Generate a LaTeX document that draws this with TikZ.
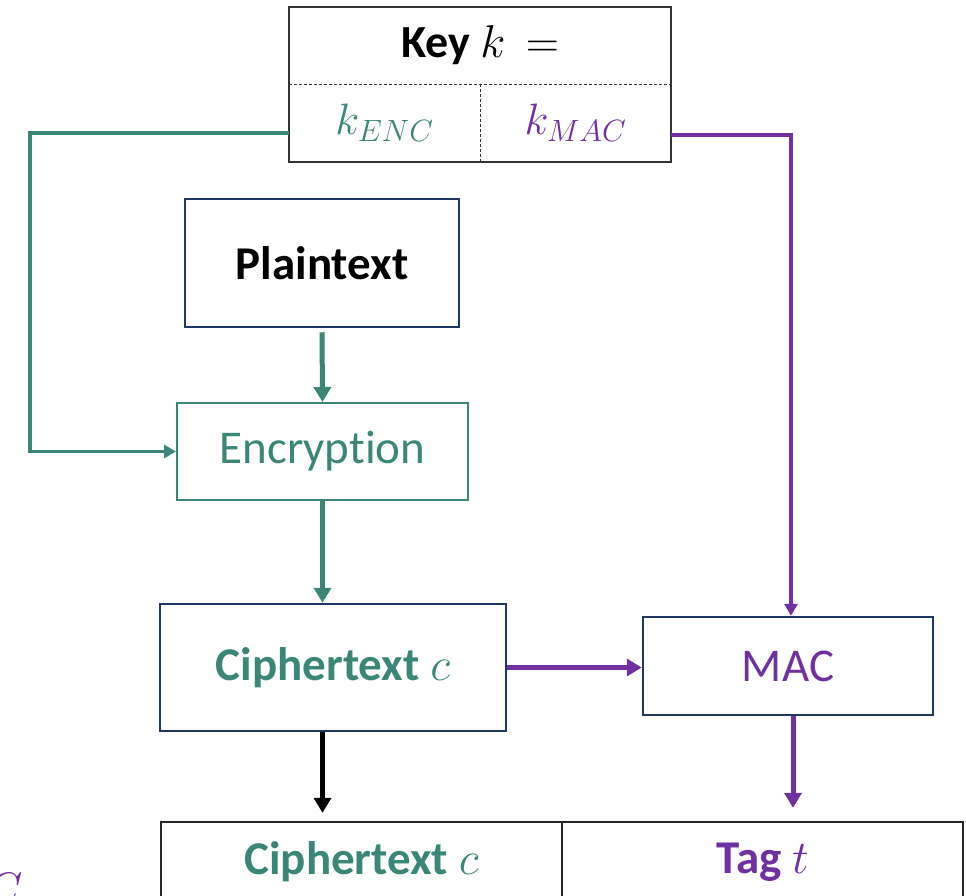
\RequirePackage{fix-cm}
\documentclass[tikz,border=0pt]{standalone}
\usepackage{fontspec}
\setmainfont{Carlito}[Ligatures=NoCommon]
\usetikzlibrary{arrows.meta}
\definecolor{encteal}{HTML}{3A8677}
\definecolor{macpurple}{HTML}{7030A0}
\definecolor{boxnavy}{HTML}{1F3864}
\tikzset{
	txt/.style={font=\fontsize{47}{54}\selectfont},
	box/.style={txt, draw=boxnavy, line width=2.5pt, inner sep=0pt},
	cell/.style={txt, inner sep=0pt},
	keycell/.style={cell, font=\fontsize{44}{50}\selectfont},
	flow/.style={line width=5pt, -{Triangle[length=15pt,width=17pt]}},
	keyline/.style={line width=3.5pt, -{Triangle[length=12pt,width=13pt]}},
}
\begin{document}
\begin{tikzpicture}[x=1pt,y=-1pt]
			\useasboundingbox (0,0) rectangle (966,895);
			% key table
			\node[keycell, font=\fontsize{46}{52}\selectfont, minimum width=382, minimum height=77] (keytop) at (480,45.5) {\textbf{Key} $k\,=$};
			\node[keycell, minimum width=191, minimum height=78, text=encteal] (kenc) at (384.5,123) {$k_{ENC}$};
			\node[keycell, minimum width=191, minimum height=78, text=macpurple] (kmac) at (575.5,123) {$k_{MAC}$};
			\draw [black!80, line width=1.5pt] (keytop.north west) rectangle (kmac.south east);
			\draw [black!80, densely dashed, line width=0.8pt] (keytop.south west) -- (keytop.south east);
			\draw [black!80, densely dashed, line width=0.8pt] (kenc.north east) -- (kenc.south east);
			% boxes
			\node[box, minimum width=274, minimum height=128] (plain) at (322,263) {\textbf{Plaintext}};
			\node[box, draw=encteal, line width=2pt, minimum width=291, minimum height=97, text=encteal] (enc) at (322.5,451.5) {Encryption};
			\node[box, minimum width=346, minimum height=127, text=encteal] (ct) at (333,667.5) {\textbf{Ciphertext} $c$};
			\node[box, minimum width=290, minimum height=98, text=macpurple] (mac) at (788,666) {MAC};
			% output table
			\node[cell, minimum width=401, minimum height=80, text=encteal] (ctcell) at (361.5,862) {\textbf{Ciphertext} $c$};
			\node[cell, minimum width=401, minimum height=80, text=macpurple] (tagcell) at (762.5,862) {\textbf{Tag} $t$};
			\draw [black!85, line width=1.5pt] (ctcell.south west) -- (ctcell.north west) -- (tagcell.north east) -- (tagcell.south east);
			\draw [black!85, line width=1.5pt] (ctcell.north east) -- (ctcell.south east);
			\node[cell, anchor=base west, text=macpurple] (cpart) at (-14,905) {$C$};
			% key arrows
			\draw [keyline, encteal] ([yshift=-10pt]kenc.west) -- ++(-259,0) |- (enc.west);
			\draw [keyline, macpurple] ([yshift=-12pt]kmac.east) -| ([xshift=3pt]mac.north);
			% data arrows
			\draw [flow, encteal, shorten <=4pt] (plain.south) -- (enc.north);
			\draw [flow, encteal] (enc.south) -- (enc |- ct.north);
			\draw [flow, macpurple] (ct.east) -- (ct.east -| mac.west);
			\draw [flow, black, shorten >=9pt] (enc |- ct.south) -- (enc |- ctcell.north);
			\draw [flow, macpurple, shorten >=14pt] ([xshift=5pt]mac.south) -- ([xshift=5pt]mac.south |- tagcell.north);
		\end{tikzpicture}
\end{document}
